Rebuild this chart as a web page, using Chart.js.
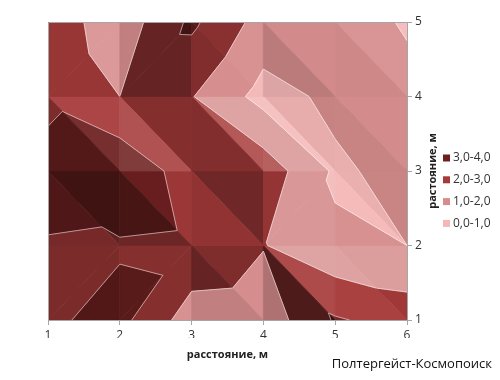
<!DOCTYPE html>
<html><head><meta charset="utf-8">
<script src="https://cdn.jsdelivr.net/npm/chart.js@4/dist/chart.umd.min.js"></script>
<style>html,body{margin:0;padding:0;background:#fff}</style>
</head><body>
<canvas id="c" width="500" height="380"></canvas>
<script>
// ---- data ----
const xValues = [1, 2, 3, 4, 5, 6];
const yValues = [1, 2, 3, 4, 5];
// z values per row (y = 1 ... 5), columns x = 1 ... 6
const zY1 = [2.85, 3.3, 1.5, 1.4, 3.1, 2.6];
const zY2 = [2.95, 2.9, 2.8, 2.05, 1.2, 1.0];
const zY3 = [3.3, 3.8, 2.5, 2.6, 0.85, 1.3];
const zY4 = [2.8, 2.0, 2.05, 0.65, 1.2, 1.3];
const zY5 = [2.6, 1.4, 3.2, 1.6, 1.5, 0.9];
const zRows = [zY1, zY2, zY3, zY4, zY5];
// triangulation of each grid cell ('\\' = top-left to bottom-right, '/' = bottom-left to top-right)
const cellSplit = [
  ['/', '/', '\\', '\\', '\\'],
  ['\\', '\\', '\\', '/', '\\'],
  ['\\', '\\', '\\', '\\', '\\'],
  ['/', '/', '\\', '\\', '\\']
];
const bandLabels = ['3,0-4,0', '2,0-3,0', '1,0-2,0', '0,0-1,0'];
const bandLow = [3, 2, 1, 0];
const bandHigh = [4, 3, 2, 1];
const bandColors = ['#6e2020', '#a63a3a', '#d68c8c', '#f4b6b6'];
const xTitle = 'расстояние, м';
const yTitle = 'растояние, м';
const credit = 'Полтергейст-Космопоиск';

const FONT = "'Open Sans', 'DejaVu Sans', sans-serif";
Chart.defaults.font.family = FONT;

// facet lighting: light from the upper right, strength per band
const lightBase = [0.75, 0.75, 1.0, 1.02];
const lightGain = [0.12, 0.12, 0.08, 0.08];
const lightMin = [0.45, 0.45, 0.62, 0.7];
const lightMax = [1.2, 1.22, 1.2, 1.15];

function clipPoly(poly, level, keepAbove) {
  const out = [];
  for (let k = 0; k < poly.length; k++) {
    const a = poly[k], b = poly[(k + 1) % poly.length];
    const ain = keepAbove ? a.z >= level : a.z <= level;
    const bin = keepAbove ? b.z >= level : b.z <= level;
    if (ain) out.push(a);
    if (ain !== bin) {
      const t = (level - a.z) / (b.z - a.z);
      out.push({x: a.x + t * (b.x - a.x), y: a.y + t * (b.y - a.y), z: level});
    }
  }
  return out;
}
function grad(t) {
  const [p, q, r] = t;
  const ux = q.x - p.x, uy = q.y - p.y, uz = q.z - p.z;
  const vx = r.x - p.x, vy = r.y - p.y, vz = r.z - p.z;
  const nx = uy * vz - uz * vy, ny = uz * vx - ux * vz, nz = ux * vy - uy * vx;
  return [-nx / nz, -ny / nz];
}
function shade(hex, f) {
  const n = parseInt(hex.slice(1), 16);
  const m = c => Math.max(0, Math.min(255, Math.round(f > 1 ? c + (255 - c) * (f - 1) : c * f)));
  return 'rgb(' + m(n >> 16 & 255) + ',' + m(n >> 8 & 255) + ',' + m(n & 255) + ')';
}

const surfacePlugin = {
  id: 'surface',
  beforeDatasetsDraw(chart) {
    const {ctx, chartArea: a, scales} = chart;
    const sx = scales.x, sy = scales.y;
    ctx.save();
    ctx.beginPath(); ctx.rect(a.left, a.top, a.right - a.left, a.bottom - a.top); ctx.clip();
    const tris = [];
    for (let j = 0; j < yValues.length - 1; j++) {
      for (let i = 0; i < xValues.length - 1; i++) {
        const TL = {x: xValues[i], y: yValues[j + 1], z: zRows[j + 1][i]};
        const TR = {x: xValues[i + 1], y: yValues[j + 1], z: zRows[j + 1][i + 1]};
        const BL = {x: xValues[i], y: yValues[j], z: zRows[j][i]};
        const BR = {x: xValues[i + 1], y: yValues[j], z: zRows[j][i + 1]};
        if (cellSplit[j][i] === '/') tris.push([TL, BL, TR], [BL, BR, TR]);
        else tris.push([TL, TR, BR], [TL, BL, BR]);
      }
    }
    const px = p => [sx.getPixelForValue(p.x), sy.getPixelForValue(p.y)];
    tris.forEach(t => {
      const [gx, gy] = grad(t);
      const s = -(gx + gy);
      for (let b = 0; b < bandLow.length; b++) {
        const poly = clipPoly(clipPoly(t, bandLow[b], true), bandHigh[b], false);
        if (poly.length < 3) continue;
        const f = Math.max(lightMin[b], Math.min(lightMax[b], lightBase[b] + lightGain[b] * s));
        const col = shade(bandColors[b], f);
        ctx.beginPath();
        poly.forEach((p, k) => { const [X, Y] = px(p); k ? ctx.lineTo(X, Y) : ctx.moveTo(X, Y); });
        ctx.closePath();
        ctx.fillStyle = col; ctx.fill();
        ctx.strokeStyle = col; ctx.lineWidth = 0.8; ctx.stroke();
      }
    });
    // contour lines
    ctx.strokeStyle = 'rgba(255,255,255,0.5)'; ctx.lineWidth = 1;
    tris.forEach(t => {
      [1, 2, 3].forEach(level => {
        const pts = [];
        for (let k = 0; k < 3; k++) {
          const p = t[k], q = t[(k + 1) % 3];
          if ((p.z - level) * (q.z - level) < 0) {
            const u = (level - p.z) / (q.z - p.z);
            pts.push({x: p.x + u * (q.x - p.x), y: p.y + u * (q.y - p.y)});
          } else if (p.z === level) {
            pts.push({x: p.x, y: p.y});
          }
        }
        if (pts.length === 2) {
          const [X1, Y1] = px(pts[0]), [X2, Y2] = px(pts[1]);
          ctx.beginPath(); ctx.moveTo(X1, Y1); ctx.lineTo(X2, Y2); ctx.stroke();
        }
      });
    });
    ctx.restore();
  },
  afterDraw(chart) {
    const {ctx, chartArea: a} = chart;
    ctx.save();
    ctx.strokeStyle = '#a6a6a6'; ctx.lineWidth = 1;
    ctx.beginPath();
    ctx.moveTo(a.left + 0.5, a.bottom); ctx.lineTo(a.left + 0.5, a.top + 0.5); ctx.lineTo(a.right, a.top + 0.5);
    ctx.stroke();
    // axis titles
    ctx.fillStyle = '#222';
    ctx.font = 'bold 11px ' + FONT;
    ctx.textAlign = 'center'; ctx.textBaseline = 'middle';
    ctx.fillText(xTitle, (a.left + a.right) / 2, 355);
    ctx.save();
    ctx.translate(433, (a.top + a.bottom) / 2);
    ctx.rotate(-Math.PI / 2);
    ctx.fillText(yTitle, 0, 0);
    ctx.restore();
    // legend
    ctx.font = '12px ' + FONT;
    ctx.textAlign = 'left';
    bandLabels.forEach((lab, k) => {
      const yy = 158 + k * 21.8;
      ctx.fillStyle = bandColors[k];
      ctx.fillRect(443, yy - 3.5, 7, 7);
      ctx.fillStyle = '#333';
      ctx.fillText(lab, 453, yy);
    });
    // credit
    ctx.font = '13px ' + FONT;
    ctx.textAlign = 'right';
    ctx.fillStyle = '#111';
    ctx.fillText(credit, 492, 364);
    ctx.restore();
  }
};

const gridPoints = [];
yValues.forEach((y, j) => xValues.forEach((x, i) => gridPoints.push({x, y, z: zRows[j][i]})));

new Chart(document.getElementById('c'), {
  type: 'scatter',
  data: {datasets: [{label: 'z', data: gridPoints, pointRadius: 0, showLine: false}]},
  options: {
    responsive: false, animation: false, devicePixelRatio: 1,
    layout: {padding: {left: 48, right: 55, top: 22, bottom: 42}},
    plugins: {legend: {display: false}, tooltip: {enabled: false}},
    scales: {
      x: {
        type: 'linear', min: 1, max: 6, position: 'bottom', z: 1,
        afterFit: s => { s.height = 18; },
        ticks: {stepSize: 1, color: '#333', font: {size: 12}, padding: 3},
        grid: {color: 'rgba(255,255,255,0.8)', lineWidth: 1, tickLength: 5, tickColor: '#a6a6a6'},
        border: {color: '#a6a6a6'}
      },
      y: {
        type: 'linear', min: 1, max: 5, position: 'right', z: 1,
        afterFit: s => { s.width = 38; },
        ticks: {stepSize: 1, color: '#333', font: {size: 12}, padding: 3},
        grid: {color: 'rgba(255,255,255,0.8)', lineWidth: 1, tickLength: 5, tickColor: '#a6a6a6'},
        border: {color: '#a6a6a6'}
      }
    }
  },
  plugins: [surfacePlugin]
});
</script>
</body></html>
